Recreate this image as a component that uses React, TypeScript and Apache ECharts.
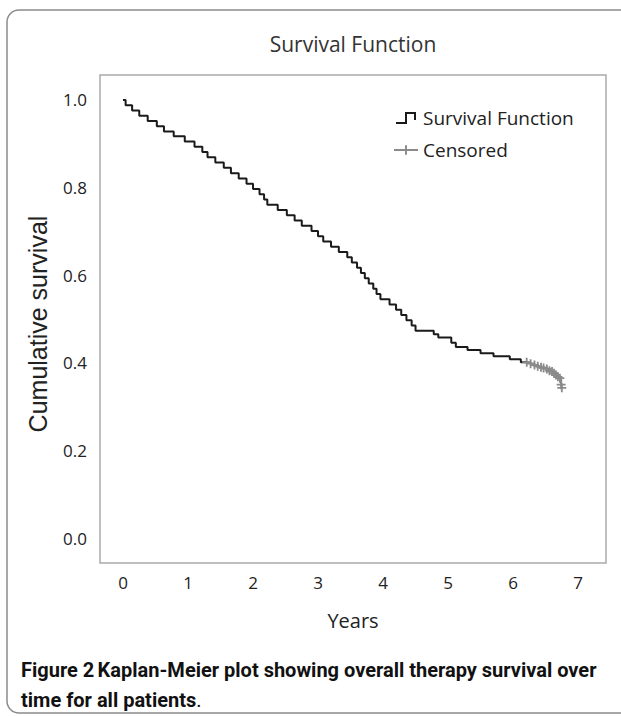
import React, { useEffect, useRef } from "react";
import * as echarts from "echarts";

// Kaplan-Meier step points: [years, cumulative survival]
const survTimes = [0, 0.04, 0.14, 0.25, 0.38, 0.52, 0.63, 0.78, 0.95, 1.1, 1.22, 1.3, 1.42, 1.55, 1.66, 1.78, 1.9, 2.0, 2.1, 2.17, 2.22, 2.38, 2.52, 2.64, 2.75, 2.9, 3.0, 3.08, 3.2, 3.32, 3.45, 3.52, 3.6, 3.66, 3.72, 3.78, 3.85, 3.9, 3.96, 4.1, 4.2, 4.28, 4.36, 4.44, 4.5, 4.78, 4.85, 5.05, 5.12, 5.3, 5.5, 5.7, 5.95, 6.12, 6.21];
const survValues = [1.0, 0.988, 0.976, 0.964, 0.952, 0.94, 0.928, 0.917, 0.905, 0.893, 0.881, 0.869, 0.857, 0.845, 0.833, 0.821, 0.809, 0.797, 0.785, 0.773, 0.761, 0.749, 0.737, 0.725, 0.713, 0.701, 0.689, 0.677, 0.665, 0.653, 0.641, 0.629, 0.617, 0.605, 0.593, 0.581, 0.569, 0.557, 0.545, 0.533, 0.521, 0.509, 0.497, 0.485, 0.473, 0.465, 0.458, 0.446, 0.436, 0.429, 0.422, 0.415, 0.408, 0.401, 0.401];

// Censored observations
const censorTimes = [6.21, 6.27, 6.33, 6.38, 6.43, 6.47, 6.52, 6.56, 6.6, 6.63, 6.66, 6.69, 6.72, 6.74, 6.75];
const censorValues = [0.401, 0.398, 0.395, 0.392, 0.39, 0.388, 0.386, 0.382, 0.38, 0.376, 0.372, 0.368, 0.365, 0.35, 0.343];

const xTickValues = [0, 1, 2, 3, 4, 5, 6, 7];
const yTickValues = [0, 0.2, 0.4, 0.6, 0.8, 1.0];

const MYRIAD = "'Open Sans', 'Noto Sans', sans-serif";
const CAPTION = "Roboto, 'Liberation Sans', sans-serif";
const PLUS = "path://M4,0H6V4H10V6H6V10H4V6H0V4H4Z";

export default function App() {
  const ref = useRef<HTMLDivElement>(null);
  useEffect(() => {
    if (!ref.current) return;
    const chart = echarts.init(ref.current, undefined, { renderer: "svg" });
    const survData = survTimes.map((t, i) => [t, survValues[i]]);
    const censorData = censorTimes.map((t, i) => [t, censorValues[i]]);
    chart.setOption({
      animation: false,
      backgroundColor: "#ffffff",
      title: {
        text: "Survival Function",
        left: 353,
        top: 33,
        padding: 0,
        textAlign: "center",
        textStyle: { fontFamily: MYRIAD, fontSize: 21, fontWeight: "normal", color: "#333", lineHeight: 21 },
      },
      legend: {
        orient: "vertical",
        left: 393,
        top: 108,
        padding: 0,
        itemWidth: 24,
        itemHeight: 12,
        itemGap: 12,
        textStyle: { fontFamily: MYRIAD, fontSize: 19, color: "#222", lineHeight: 20 },
        data: [
          { name: "Survival Function", icon: "path://M0,10H9V0H20V8H18V2H11V12H0Z" },
          { name: "Censored" },
        ],
      },
      grid: {
        left: 100,
        top: 75,
        width: 506,
        height: 488,
        show: true,
        borderColor: "#aaaaaa",
        borderWidth: 1.5,
        backgroundColor: "#ffffff",
      },
      xAxis: {
        type: "value",
        min: -0.354,
        max: 7.43,
        splitLine: { show: false },
        axisLine: { show: false },
        axisTick: { show: false },
        axisLabel: {
          customValues: xTickValues,
          margin: 11,
          fontFamily: MYRIAD,
          fontSize: 17,
          color: "#222",
        },
        name: "Years",
        nameLocation: "middle",
        nameGap: 47,
        nameTextStyle: { fontFamily: MYRIAD, fontSize: 20, color: "#222" },
      },
      yAxis: {
        type: "value",
        min: -0.057,
        max: 1.057,
        splitLine: { show: false },
        axisLine: { show: false },
        axisTick: { show: false },
        axisLabel: {
          customValues: yTickValues,
          formatter: (v: number) => v.toFixed(1),
          margin: 13,
          fontFamily: MYRIAD,
          fontSize: 17,
          color: "#222",
        },
        name: "Cumulative survival",
        nameLocation: "middle",
        nameGap: 50,
        nameTextStyle: {
          fontFamily: "'Liberation Sans', Arial, sans-serif",
          fontSize: 25,
          color: "#222",
          padding: [0, 10, 0, 0],
        },
      },
      series: [
        {
          name: "Survival Function",
          type: "line",
          step: "end",
          data: survData,
          symbol: "none",
          color: "#1a1a1a",
          lineStyle: { color: "#1a1a1a", width: 2 },
          z: 3,
        },
        {
          name: "Censored",
          type: "line",
          step: "end",
          data: censorData,
          symbol: PLUS,
          symbolSize: 9,
          color: "#8a8a8a",
          itemStyle: { color: "#8a8a8a" },
          lineStyle: { color: "#8a8a8a", width: 2 },
          z: 4,
        },
      ],
      graphic: [
        {
          type: "rect",
          z: -10,
          shape: { x: 7, y: 10, width: 640, height: 703, r: 12 },
          style: { fill: "none", stroke: "#8c8c8c", lineWidth: 1.5 },
        },
        {
          type: "text",
          left: 21,
          top: 660,
          style: {
            text: "{b|Figure 2} {m|Kaplan-Meier plot showing overall therapy survival over}\n{m|time for all patients}{r|.}",
            rich: {
              b: { fontFamily: CAPTION, fontWeight: "bold", fontSize: 20, fill: "#111", lineHeight: 30 },
              m: { fontFamily: CAPTION, fontWeight: "bold", fontSize: 20, fill: "#111", lineHeight: 30 },
              r: { fontFamily: CAPTION, fontWeight: "normal", fontSize: 20, fill: "#111", lineHeight: 30 },
            },
          },
        },
      ],
    });
    return () => chart.dispose();
  }, []);
  return <div ref={ref} style={{ position: "absolute", left: 0, top: 0, width: 621, height: 716 }} />;
}
